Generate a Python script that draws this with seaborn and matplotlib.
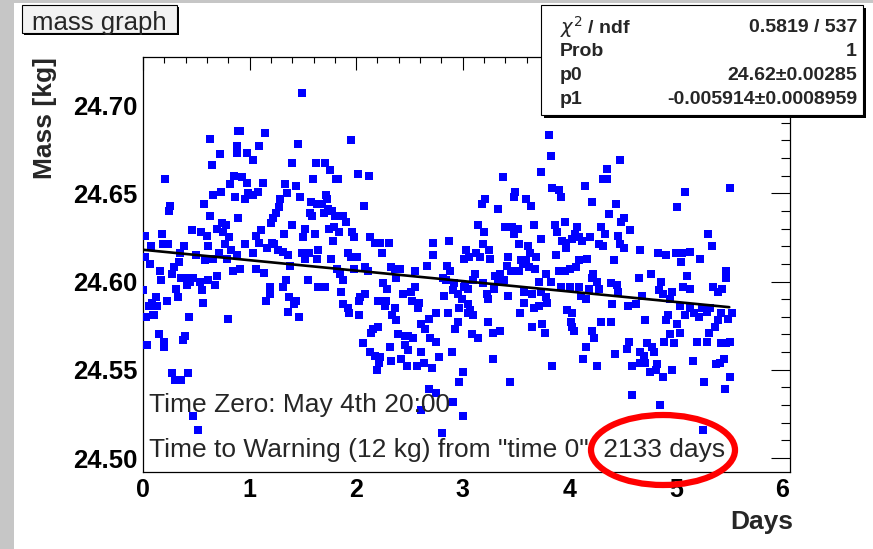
import matplotlib
matplotlib.use('Agg')
import numpy as np
import pandas as pd
import matplotlib.pyplot as plt
from matplotlib.patches import Rectangle, Ellipse
import seaborn as sns

# mass readings (days since time zero, kg)
days = [
    0.889, 0.632, 0.880, 0.880, 0.726, 0.651, 0.857, 0.204, 0.817, 0.732, 0.660, 0.864, 0.570, 0.254, 0.241,
    0.626, 0.895, 0.742, 0.782, 0.692, 0.460, 0.748, 0.542, 0.604, 0.178, 0.016, 0.810, 0.773, 0.608, 0.191,
    0.232, 0.078, 0.388, 0.826, 0.711, 0.883, 0.347, 0.022, 0.498, 0.579, 0.657, 0.786, 0.335, 0.063, 0.288,
    0.845, 0.911, 0.160, 0.272, 0.698, 0.352, 0.410, 0.472, 0.441, 0.535, 0.613, 0.169, 0.679, 0.413, 0.551,
    0.313, 0.003, 0.119, 0.082, 0.134, 0.058, 0.103, 0.326, 0.223, 0.561, 0.028, 0.094, 0.435, 0.798, 0.150,
    0.194, 0.397, 0.376, 0.040, 0.197, 0.275, 0.425, 0.298, 0.354, 0.470, 0.519,
    1.493, 0.908, 1.148, 1.092, 1.458, 0.979, 1.033, 1.399, 1.622, 1.712, 1.759, 1.812, 0.932, 0.979, 1.124,
    1.596, 1.331, 1.440, 0.986, 1.033, 0.955, 1.080, 1.349, 1.471, 1.718, 1.722, 1.289, 1.575, 1.634, 1.684,
    1.731, 1.697, 1.772, 1.800, 1.277, 1.246, 1.221, 1.205, 1.565, 1.587, 1.399, 1.793, 1.111, 1.518, 1.505,
    1.612, 1.321, 1.747, 1.061, 1.092, 0.961, 1.784, 1.208, 1.230, 1.268, 1.315, 1.164, 1.643, 1.362, 1.380,
    1.496, 1.559, 1.518, 1.030, 1.637, 1.768, 1.064, 1.133, 1.340, 1.549, 1.643, 1.712, 1.189, 1.195, 1.158,
    1.315, 1.371, 1.440, 1.418, 1.362, 1.465,
    1.950, 1.828, 2.016, 2.116, 2.072, 1.875, 1.906, 1.838, 1.963, 1.978, 2.125, 2.172, 2.219, 2.307, 2.720,
    2.244, 1.922, 1.947, 2.007, 2.720, 2.664, 2.087, 2.110, 1.984, 1.822, 1.850, 1.881, 1.859, 2.329, 2.360,
    2.407, 2.376, 2.554, 2.251, 2.288, 2.548, 2.516, 2.439, 2.087, 2.038, 2.031, 2.204, 2.282, 2.266, 2.360,
    1.875, 1.922, 1.937, 2.022, 2.520, 2.589, 2.338, 2.376, 2.579, 2.683, 2.745, 2.157, 2.204, 2.141, 2.610,
    2.641, 2.392, 2.454, 2.486, 2.533, 2.688, 2.063, 2.313, 2.454, 2.486, 2.125, 2.179, 2.219, 2.210, 2.195,
    2.610, 2.329, 2.416, 2.476, 2.573, 2.636, 2.711, 2.680, 2.750, 2.610,
    3.374, 3.493, 3.484, 3.211, 3.180, 3.596, 3.640, 3.333, 3.139, 3.202, 3.396, 3.458, 3.515, 3.477, 3.672,
    2.873, 3.524, 3.609, 3.634, 3.193, 3.249, 3.033, 3.124, 3.162, 3.258, 3.008, 3.061, 3.427, 3.415, 3.453,
    3.547, 3.593, 3.562, 3.625, 3.531, 2.848, 2.883, 3.305, 3.352, 3.390, 3.327, 3.118, 3.092, 2.810, 2.842,
    3.186, 3.290, 3.024, 3.045, 3.008, 2.920, 2.904, 2.951, 2.993, 2.826, 3.227, 3.233, 3.421, 3.578, 3.571,
    3.540, 3.665, 2.967, 3.045, 3.071, 3.050, 3.092, 2.864, 2.958, 2.930, 3.240, 3.287, 3.349, 3.646, 3.083,
    3.146, 2.749, 2.780, 2.902, 3.280, 2.998, 2.967, 3.446, 2.904, 2.998, 2.801,
    3.810, 3.825, 4.476, 3.731, 4.357, 4.320, 4.350, 4.148, 3.840, 3.903, 3.918, 4.216, 4.441, 4.373, 4.482,
    4.514, 3.866, 3.960, 4.069, 4.301, 4.330, 3.888, 4.054, 4.028, 4.091, 4.122, 4.195, 4.460, 4.473, 4.514,
    3.737, 3.928, 3.965, 3.972, 4.279, 4.320, 3.690, 3.872, 4.420, 4.169, 4.091, 4.060, 4.003, 3.956, 3.903,
    3.678, 3.778, 4.226, 4.210, 3.716, 3.825, 4.263, 4.279, 4.388, 4.451, 4.460, 3.918, 4.007, 4.091, 4.185,
    3.653, 3.731, 3.778, 4.106, 4.153, 4.404, 4.554, 3.716, 3.794, 3.981, 4.028, 4.294, 4.395, 3.747, 3.772,
    4.012, 4.028, 4.044, 4.210, 4.232, 4.153, 4.561, 4.545, 4.429, 4.129, 3.840, 4.257, 4.585, 4.592,
    5.089, 5.506, 5.011, 4.573, 5.299, 5.340, 4.660, 4.829, 4.902, 4.996, 5.058, 5.136, 5.049, 5.224, 5.465,
    5.474, 4.767, 4.861, 4.651, 5.099, 5.068, 5.130, 5.349, 5.434, 5.393, 4.839, 4.880, 4.964, 4.948, 4.683,
    5.035, 5.136, 5.246, 5.324, 4.629, 5.425, 5.528, 5.490, 4.923, 4.911, 5.089, 5.167, 5.214, 5.287, 4.714,
    5.011, 5.393, 5.371, 4.942, 5.036, 4.980, 4.886, 5.308, 5.293, 5.193, 5.418, 5.506, 5.465, 4.730, 4.777,
    4.798, 4.667, 4.698, 4.714, 4.660, 4.824, 4.755, 4.817, 4.964, 4.880, 5.162, 5.380, 5.412, 5.449, 5.506,
    5.261, 5.459, 4.855, 5.252,
]
mass = [
    24.685, 24.681, 24.677, 24.673, 24.672, 24.666, 24.660, 24.658, 24.655, 24.651, 24.649, 24.648, 24.644, 24.643, 24.640,
    24.637, 24.636, 24.633, 24.632, 24.630, 24.629, 24.628, 24.628, 24.626, 24.627, 24.626, 24.625, 24.621, 24.620, 24.621,
    24.621, 24.620, 24.620, 24.618, 24.616, 24.615, 24.616, 24.614, 24.615, 24.612, 24.613, 24.613, 24.611, 24.610, 24.608,
    24.606, 24.607, 24.606, 24.604, 24.603, 24.602, 24.602, 24.602, 24.600, 24.600, 24.601, 24.601, 24.598, 24.598, 24.595,
    24.596, 24.595, 24.591, 24.588, 24.586, 24.586, 24.581, 24.591, 24.589, 24.588, 24.580, 24.581, 24.580, 24.579, 24.570,
    24.566, 24.569, 24.567, 24.564, 24.563, 24.548, 24.548, 24.544, 24.544, 24.524, 24.516,
    24.707, 24.685, 24.684, 24.677, 24.678, 24.673, 24.669, 24.667, 24.667, 24.667, 24.663, 24.658, 24.659, 24.656, 24.656,
    24.658, 24.655, 24.654, 24.650, 24.649, 24.647, 24.651, 24.650, 24.648, 24.649, 24.647, 24.647, 24.645, 24.644, 24.644,
    24.641, 24.639, 24.640, 24.637, 24.642, 24.639, 24.636, 24.633, 24.639, 24.637, 24.632, 24.631, 24.629, 24.630, 24.625,
    24.627, 24.627, 24.630, 24.626, 24.622, 24.621, 24.623, 24.622, 24.621, 24.618, 24.617, 24.619, 24.618, 24.615, 24.609,
    24.616, 24.616, 24.613, 24.616, 24.613, 24.613, 24.607, 24.605, 24.601, 24.601, 24.597, 24.597, 24.597, 24.593, 24.589,
    24.597, 24.591, 24.589, 24.587, 24.583, 24.580,
    24.680, 24.658, 24.661, 24.660, 24.643, 24.637, 24.634, 24.628, 24.628, 24.625, 24.625, 24.622, 24.622, 24.622, 24.622,
    24.616, 24.616, 24.614, 24.614, 24.615, 24.609, 24.608, 24.606, 24.607, 24.607, 24.604, 24.601, 24.594, 24.608, 24.607,
    24.607, 24.602, 24.606, 24.599, 24.596, 24.597, 24.594, 24.593, 24.593, 24.591, 24.589, 24.589, 24.589, 24.586, 24.585,
    24.587, 24.585, 24.582, 24.581, 24.589, 24.588, 24.581, 24.578, 24.585, 24.579, 24.582, 24.573, 24.574, 24.571, 24.576,
    24.573, 24.570, 24.569, 24.569, 24.568, 24.568, 24.565, 24.563, 24.564, 24.561, 24.560, 24.558, 24.557, 24.554, 24.550,
    24.560, 24.555, 24.556, 24.552, 24.552, 24.554, 24.551, 24.539, 24.537, 24.527,
    24.659, 24.651, 24.648, 24.647, 24.644, 24.647, 24.643, 24.641, 24.632, 24.628, 24.631, 24.631, 24.630, 24.627, 24.632,
    24.623, 24.621, 24.620, 24.616, 24.621, 24.618, 24.618, 24.616, 24.614, 24.613, 24.613, 24.614, 24.614, 24.609, 24.606,
    24.612, 24.612, 24.610, 24.608, 24.606, 24.609, 24.606, 24.603, 24.604, 24.601, 24.600, 24.604, 24.601, 24.602, 24.601,
    24.599, 24.596, 24.598, 24.596, 24.597, 24.599, 24.595, 24.593, 24.590, 24.592, 24.593, 24.590, 24.592, 24.594, 24.588,
    24.582, 24.585, 24.585, 24.587, 24.584, 24.582, 24.581, 24.582, 24.577, 24.573, 24.577, 24.571, 24.572, 24.574, 24.570,
    24.568, 24.566, 24.557, 24.560, 24.556, 24.549, 24.543, 24.543, 24.532, 24.524, 24.514,
    24.683, 24.671, 24.669, 24.662, 24.664, 24.658, 24.658, 24.654, 24.653, 24.652, 24.648, 24.645, 24.644, 24.638, 24.634,
    24.636, 24.632, 24.634, 24.631, 24.631, 24.627, 24.628, 24.627, 24.624, 24.625, 24.623, 24.625, 24.626, 24.621, 24.619,
    24.624, 24.623, 24.622, 24.619, 24.621, 24.620, 24.614, 24.615, 24.612, 24.613, 24.612, 24.608, 24.607, 24.606, 24.606,
    24.607, 24.604, 24.604, 24.602, 24.600, 24.600, 24.600, 24.596, 24.599, 24.598, 24.594, 24.597, 24.597, 24.597, 24.596,
    24.593, 24.594, 24.591, 24.592, 24.590, 24.587, 24.586, 24.586, 24.588, 24.584, 24.582, 24.577, 24.577, 24.576, 24.571,
    24.577, 24.574, 24.572, 24.572, 24.568, 24.563, 24.566, 24.562, 24.559, 24.556, 24.552, 24.552, 24.552, 24.536,
    24.651, 24.653, 24.642, 24.629, 24.627, 24.620, 24.618, 24.616, 24.615, 24.616, 24.616, 24.617, 24.611, 24.613, 24.606,
    24.602, 24.604, 24.600, 24.602, 24.603, 24.597, 24.596, 24.597, 24.596, 24.594, 24.595, 24.593, 24.594, 24.590, 24.592,
    24.586, 24.585, 24.585, 24.585, 24.587, 24.582, 24.582, 24.579, 24.581, 24.578, 24.581, 24.582, 24.580, 24.583, 24.578,
    24.576, 24.578, 24.574, 24.570, 24.571, 24.565, 24.566, 24.571, 24.566, 24.566, 24.565, 24.566, 24.565, 24.565, 24.563,
    24.560, 24.560, 24.558, 24.554, 24.554, 24.553, 24.549, 24.550, 24.550, 24.546, 24.555, 24.553, 24.554, 24.556, 24.546,
    24.543, 24.539, 24.530, 24.516,
]

# fit parameters shown in the stats box
P0 = 24.618
P1 = -0.005914
fit_days = [0.0, 5.5]
stats_names = [r"$\chi^2$ / ndf", "Prob", "p0", "p1"]
stats_values = ["0.5819 / 537", "1", "24.62\u00b10.00285", "-0.005914\u00b10.0008959"]

x_ticks = [0, 1, 2, 3, 4, 5, 6]
y_ticks = [24.50, 24.55, 24.60, 24.65, 24.70]

W, H = 873, 549

sns.set_theme(style="white")
plt.rcParams['font.family'] = ['Liberation Sans', 'DejaVu Sans']

df = pd.DataFrame({"days": days, "mass": mass})
fit = pd.DataFrame({"days": fit_days})
fit["mass"] = P0 + P1 * fit["days"]

fig = plt.figure(figsize=(W / 100, H / 100), dpi=100)
fig.patch.set_facecolor("white")

# grey window edges of the screenshot
fig.patches.append(Rectangle((0, 0), 14 / W, 1, transform=fig.transFigure,
                             facecolor="#c6c6c6", edgecolor="none", zorder=0))
fig.patches.append(Rectangle((0, 1 - 3 / H), 1, 3 / H, transform=fig.transFigure,
                             facecolor="#c6c6c6", edgecolor="none", zorder=0))

ax = fig.add_axes([143 / W, 1 - 472 / H, (790 - 143) / W, (472 - 57) / H])
ax.set_facecolor("white")

sns.scatterplot(data=df, x="days", y="mass", marker="s", color="#0000ff",
                s=30, linewidth=0, ax=ax, zorder=3)
sns.lineplot(data=fit, x="days", y="mass", color="black", linewidth=1.9, ax=ax, zorder=4)

ax.set_xlim(0, 6.07)
ax.set_ylim(24.4921, 24.7272)
ax.set_xticks(x_ticks)
ax.set_xticks(np.arange(0, 6.07, 0.2), minor=True)
ax.set_yticks(y_ticks)
ax.set_yticks(np.arange(24.50, 24.725, 0.01), minor=True)
ax.set_xticklabels([str(t) for t in x_ticks], fontsize=18, fontweight="bold")
ax.set_yticklabels([f"{t:.2f}" for t in y_ticks], fontsize=18.5, fontweight="bold")
ax.set_xlabel("")
ax.set_ylabel("")

ax.tick_params(which="both", direction="in", top=True, right=True, width=0.8, colors="black")
ax.tick_params(axis="x", which="major", length=9, pad=4)
ax.tick_params(axis="x", which="minor", length=4.5)
ax.tick_params(axis="y", which="major", length=13.5, pad=4)
ax.tick_params(axis="y", which="minor", length=6.5)
for sp in ax.spines.values():
    sp.set_color("black")
    sp.set_linewidth(0.9)

ax.text(0.06, 24.530, "Time Zero: May 4th 20:00", fontsize=19, ha="left", va="center", zorder=5)
ax.text(0.06, 24.5045, 'Time to Warning (12 kg) from "time 0": 2133 days',
        fontsize=19, ha="left", va="center", zorder=5)

# axis titles
fig.text(45 / W, 1 - 57 / H, "Mass [kg]", rotation=90, ha="center", va="top",
         fontsize=19, fontweight="bold")
fig.text(793 / W, 1 - 522 / H, "Days", ha="right", va="center", fontsize=19, fontweight="bold")

# red circle highlight
fig.patches.append(Ellipse((663 / W, 1 - 450 / H), 144 / W, 70 / H, transform=fig.transFigure,
                           facecolor="none", edgecolor="#ff0000", linewidth=4.5, zorder=6))

# title box
fig.patches.append(Rectangle((24 / W, 1 - 35 / H), 155 / W, 28 / H, transform=fig.transFigure,
                             facecolor="black", edgecolor="none", zorder=2))
fig.patches.append(Rectangle((22 / W, 1 - 33 / H), 155 / W, 28 / H, transform=fig.transFigure,
                             facecolor="#f2f2f2", edgecolor="black", linewidth=0.8, zorder=2))
fig.text(99 / W, 1 - 30 / H, "mass graph", ha="center", va="baseline", fontsize=18.5, zorder=3)

# stats box
bx0, by0, bx1, by1 = 541, 5, 863, 115
fig.patches.append(Rectangle(((bx0 + 3) / W, 1 - (by1 + 3) / H), (bx1 - bx0) / W, (by1 - by0) / H,
                             transform=fig.transFigure, facecolor="black", edgecolor="none", zorder=2))
fig.patches.append(Rectangle((bx0 / W, 1 - by1 / H), (bx1 - bx0) / W, (by1 - by0) / H,
                             transform=fig.transFigure, facecolor="white", edgecolor="black",
                             linewidth=0.8, zorder=2))
row_y = [27, 51, 75, 99]
for name, val, ry in zip(stats_names, stats_values, row_y):
    fig.text(560 / W, 1 - ry / H, name, ha="left", va="center", fontsize=14,
             fontweight="bold", zorder=3)
    fig.text(857 / W, 1 - ry / H, val, ha="right", va="center", fontsize=14,
             fontweight="bold", zorder=3)

fig.savefig("out.png", dpi=100)
plt.close(fig)
